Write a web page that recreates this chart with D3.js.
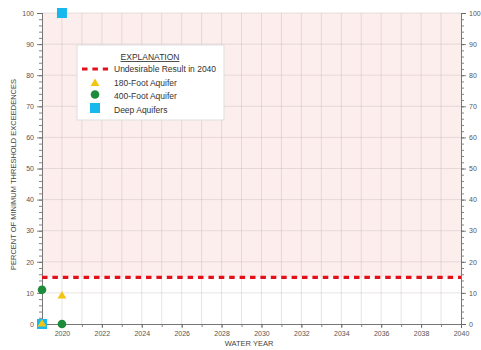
<!DOCTYPE html>
<html>
<head>
<meta charset="utf-8">
<script src="https://cdn.jsdelivr.net/npm/d3@7"></script>
<style>
  html, body { margin: 0; padding: 0; background: #fff; }
  svg { display: block; font-family: "Liberation Sans", Arial, sans-serif; }
</style>
</head>
<body>
<svg id="chart" width="481" height="350"></svg>
<script>
// Water years and exceedance percentages per aquifer
const years = [2019, 2020];
const aquifer180 = [0, 9];
const aquifer400 = [11, 0];
const deepAquifers = [0, 100];
const undesirableThreshold = 15;
const xTickLabels = [2020, 2022, 2024, 2026, 2028, 2030, 2032, 2034, 2036, 2038, 2040];
const yTickLabels = [0, 10, 20, 30, 40, 50, 60, 70, 80, 90, 100];

const svg = d3.select("#chart");
const m = { left: 42, right: 461, top: 13, bottom: 324 };

const x = d3.scaleLinear().domain([2019, 2040]).range([m.left, m.right]);
const y = d3.scaleLinear().domain([0, 100]).range([m.bottom, m.top]);

// Shaded zone above the undesirable-result threshold
svg.append("rect")
  .attr("x", x(2019)).attr("y", y(100))
  .attr("width", x(2040) - x(2019))
  .attr("height", y(undesirableThreshold) - y(100))
  .attr("fill", "#fdeeee");

// Grid
const grid = svg.append("g");
grid.selectAll("line.v").data(d3.range(2020, 2040)).join("line")
  .attr("x1", d => x(d)).attr("x2", d => x(d))
  .attr("y1", y(0)).attr("y2", y(100))
  .attr("stroke", "#bfb0b0").attr("stroke-opacity", 0.45).attr("stroke-width", 0.8);
grid.selectAll("line.h").data(d3.range(10, 101, 10)).join("line")
  .attr("x1", x(2019)).attr("x2", x(2040))
  .attr("y1", d => y(d)).attr("y2", d => y(d))
  .attr("stroke", "#bfb0b0").attr("stroke-opacity", 0.45).attr("stroke-width", 0.8);

const tickColor = "#666";
const labelColor = "#555";

function styleAxis(g) {
  g.select(".domain").attr("stroke", "#777").attr("stroke-width", 1);
  g.selectAll(".tick line").attr("stroke", tickColor).attr("stroke-width", 0.8);
  g.selectAll(".tick text").attr("fill", labelColor).attr("font-size", 7).attr("font-family", "Liberation Sans, Arial, sans-serif");
}

// Minor ticks (every 2 %) on both y axes
svg.append("g").attr("transform", `translate(${m.left},0)`)
  .call(d3.axisLeft(y).tickValues(d3.range(0, 101, 2)).tickSize(3).tickFormat(""))
  .call(styleAxis);
svg.append("g").attr("transform", `translate(${m.right},0)`)
  .call(d3.axisRight(y).tickValues(d3.range(0, 101, 2)).tickSize(3).tickFormat(""))
  .call(styleAxis);

// Major y axes
svg.append("g").attr("transform", `translate(${m.left},0)`)
  .call(d3.axisLeft(y).tickValues(yTickLabels).tickSize(5).tickPadding(3))
  .call(styleAxis);
svg.append("g").attr("transform", `translate(${m.right},0)`)
  .call(d3.axisRight(y).tickValues(yTickLabels).tickSize(5).tickPadding(3))
  .call(styleAxis);

// x axis: minor ticks every year, labels every two years
svg.append("g").attr("transform", `translate(0,${m.bottom})`)
  .call(d3.axisBottom(x).tickValues(d3.range(2019, 2041)).tickSize(3).tickFormat(""))
  .call(styleAxis);
svg.append("g").attr("transform", `translate(0,${m.bottom})`)
  .call(d3.axisBottom(x).tickValues(xTickLabels).tickSize(4).tickPadding(3).tickFormat(d3.format("d")))
  .call(styleAxis);

// Undesirable result line
svg.append("line")
  .attr("x1", x(2019)).attr("x2", x(2040))
  .attr("y1", y(undesirableThreshold)).attr("y2", y(undesirableThreshold))
  .attr("stroke", "#e3101a").attr("stroke-width", 3.2)
  .attr("stroke-dasharray", "5.5,4.9");

// Markers
const squareSize = 10;
svg.append("g").selectAll("rect").data(years.map((yr, i) => [yr, deepAquifers[i]])).join("rect")
  .attr("x", d => x(d[0]) - squareSize / 2).attr("y", d => y(d[1]) - squareSize / 2)
  .attr("width", squareSize).attr("height", squareSize)
  .attr("fill", "#17b8ee");

svg.append("g").selectAll("circle").data(years.map((yr, i) => [yr, aquifer400[i]])).join("circle")
  .attr("cx", d => x(d[0])).attr("cy", d => y(d[1])).attr("r", 4.3)
  .attr("fill", "#1d8c3a");

const tri = d3.symbol().type(d3.symbolTriangle).size(34);
svg.append("g").selectAll("path").data(years.map((yr, i) => [yr, aquifer180[i]])).join("path")
  .attr("d", tri)
  .attr("transform", d => `translate(${x(d[0])},${y(d[1])})`)
  .attr("fill", "#f2c413");

// Axis titles
svg.append("text")
  .attr("x", 249).attr("y", 346)
  .attr("text-anchor", "middle").attr("font-size", 7.5).attr("fill", "#444")
  .text("WATER YEAR");
svg.append("text")
  .attr("transform", `translate(16,${(m.top + m.bottom) / 2 + 6}) rotate(-90)`)
  .attr("text-anchor", "middle").attr("font-size", 7.5).attr("fill", "#444")
  .text("PERCENT OF MINIMUM THRESHOLD EXCEEDENCES");

// Legend
const lg = svg.append("g").attr("transform", "translate(77,45)");
lg.append("rect").attr("width", 147).attr("height", 75)
  .attr("fill", "#fff").attr("stroke", "#ddd").attr("stroke-width", 1);
lg.append("text").attr("x", 73).attr("y", 15).attr("text-anchor", "middle")
  .attr("font-size", 8.5).attr("fill", "#333").attr("text-decoration", "underline")
  .text("EXPLANATION");
lg.append("line").attr("x1", 5).attr("x2", 31).attr("y1", 24).attr("y2", 24)
  .attr("stroke", "#e3101a").attr("stroke-width", 3.2).attr("stroke-dasharray", "5.5,4.9");
lg.append("path").attr("d", tri).attr("transform", "translate(18,38.5)").attr("fill", "#f2c413");
lg.append("circle").attr("cx", 18).attr("cy", 49.5).attr("r", 4.3).attr("fill", "#1d8c3a");
lg.append("rect").attr("x", 13).attr("y", 58).attr("width", 10).attr("height", 10).attr("fill", "#17b8ee");
const items = ["Undesirable Result in 2040", "180-Foot Aquifer", "400-Foot Aquifer", "Deep Aquifers"];
lg.selectAll("text.item").data(items).join("text")
  .attr("x", 37).attr("y", (d, i) => 27 + i * 13.5)
  .attr("font-size", 8.5).attr("fill", "#333")
  .text(d => d);
</script>
</body>
</html>
